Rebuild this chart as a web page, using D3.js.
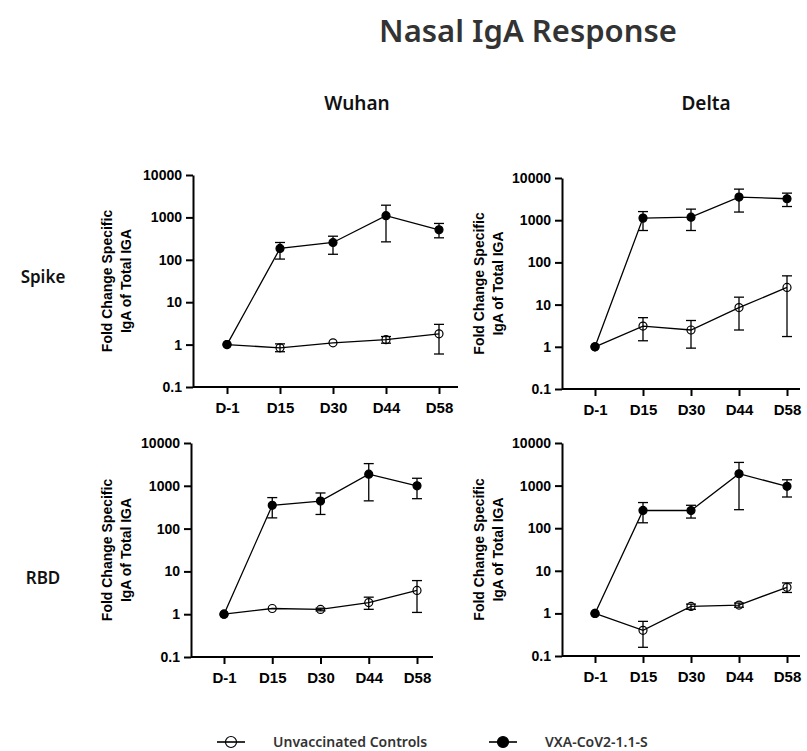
<!DOCTYPE html>
<html>
<head>
<meta charset="utf-8">
<script src="https://cdn.jsdelivr.net/npm/d3@7"></script>
<style>
  body { margin: 0; background: #fff; }
  .axis path, .axis line { stroke: #000; stroke-width: 2px; }
  .axis text { font-family: "Liberation Sans", Arial, sans-serif; font-weight: bold; fill: #000; }
</style>
</head>
<body>
<svg id="chart" width="807" height="751"></svg>
<script>
const days = ["D-1", "D15", "D30", "D44", "D58"];
const yTickValues = [0.1, 1, 10, 100, 1000, 10000];
const groupNames = ["Unvaccinated Controls", "VXA-CoV2-1.1-S"];

// Spike / Wuhan
const spikeWuhanCtrl   = [1, 0.84, 1.1, 1.31, 1.8];
const spikeWuhanCtrlLo = [null, 0.68, null, 1.08, 0.6];
const spikeWuhanCtrlHi = [null, 1.04, null, 1.55, 3.0];
const spikeWuhanVax    = [1, 185, 256, 1100, 510];
const spikeWuhanVaxLo  = [null, 104, 135, 265, 330];
const spikeWuhanVaxHi  = [null, 256, 360, 1940, 720];

// Spike / Delta
const spikeDeltaCtrl   = [1, 3.1, 2.5, 8.5, 25.5];
const spikeDeltaCtrlLo = [null, 1.39, 0.93, 2.5, 1.75];
const spikeDeltaCtrlHi = [null, 4.9, 4.2, 15, 48];
const spikeDeltaVax    = [1, 1120, 1180, 3530, 3220];
const spikeDeltaVaxLo  = [null, 570, 570, 1560, 2110];
const spikeDeltaVaxHi  = [null, 1600, 1830, 5450, 4380];

// RBD / Wuhan
const rbdWuhanCtrl   = [1, 1.36, 1.29, 1.87, 3.6];
const rbdWuhanCtrlLo = [null, null, 1.2, 1.3, 1.1];
const rbdWuhanCtrlHi = [null, null, 1.38, 2.5, 6.1];
const rbdWuhanVax    = [1, 350, 440, 1870, 1000];
const rbdWuhanVaxLo  = [null, 178, 214, 445, 500];
const rbdWuhanVaxHi  = [null, 530, 680, 3300, 1500];

// RBD / Delta
const rbdDeltaCtrl   = [1, 0.40, 1.46, 1.57, 4.1];
const rbdDeltaCtrlLo = [null, 0.16, 1.25, 1.4, 3.1];
const rbdDeltaCtrlHi = [null, 0.65, 1.65, 1.75, 5.2];
const rbdDeltaVax    = [1, 262, 260, 1900, 960];
const rbdDeltaVaxLo  = [null, 134, 173, 272, 540];
const rbdDeltaVaxHi  = [null, 400, 345, 3500, 1370];

const panels = [
  { ctrl: [spikeWuhanCtrl, spikeWuhanCtrlLo, spikeWuhanCtrlHi], vax: [spikeWuhanVax, spikeWuhanVaxLo, spikeWuhanVaxHi],
    x0: 193, x1: 458, xa: 227, xb: 439, top: 175, bottom: 387, lab: 112 },
  { ctrl: [spikeDeltaCtrl, spikeDeltaCtrlLo, spikeDeltaCtrlHi], vax: [spikeDeltaVax, spikeDeltaVaxLo, spikeDeltaVaxHi],
    x0: 562, x1: 800, xa: 595, xb: 787, top: 178, bottom: 389, lab: 484 },
  { ctrl: [rbdWuhanCtrl, rbdWuhanCtrlLo, rbdWuhanCtrlHi], vax: [rbdWuhanVax, rbdWuhanVaxLo, rbdWuhanVaxHi],
    x0: 191, x1: 433, xa: 224, xb: 417, top: 443, bottom: 657, lab: 112 },
  { ctrl: [rbdDeltaCtrl, rbdDeltaCtrlLo, rbdDeltaCtrlHi], vax: [rbdDeltaVax, rbdDeltaVaxLo, rbdDeltaVaxHi],
    x0: 562, x1: 800, xa: 595, xb: 787, top: 443, bottom: 656, lab: 484 }
];

const svg = d3.select("#chart");

// titles
svg.append("text")
  .attr("x", 528).attr("y", 42)
  .attr("text-anchor", "middle")
  .style("font-family", "'Noto Sans', sans-serif")
  .style("font-weight", 600)
  .style("font-size", "31px")
  .attr("fill", "#333")
  .text("Nasal IgA Response");

const heads = svg.append("g")
  .attr("text-anchor", "middle")
  .style("font-family", "'Noto Sans', sans-serif")
  .style("font-weight", 600)
  .attr("fill", "#111");
heads.append("text").attr("x", 357).attr("y", 110).style("font-size", "19px").text("Wuhan");
heads.append("text").attr("x", 706).attr("y", 110).style("font-size", "19px").text("Delta");
heads.append("text").attr("x", 43).attr("y", 283).style("font-size", "17px").text("Spike");
heads.append("text").attr("x", 43).attr("y", 584).style("font-size", "17px").text("RBD");

panels.forEach(p => {
  const g = svg.append("g");
  const x = d3.scalePoint().domain(days).range([p.xa, p.xb]);
  const y = d3.scaleLog().domain([0.1, 10000]).range([p.bottom, p.top]);

  // y axis
  g.append("g")
    .attr("class", "axis")
    .attr("transform", `translate(${p.x0},0)`)
    .call(d3.axisLeft(y).tickValues(yTickValues).tickFormat(d => String(d)).tickSize(7).tickSizeOuter(0).tickPadding(4))
    .selectAll("text").style("font-size", "14px");

  // x axis (line spans beyond the points)
  const xa = g.append("g")
    .attr("class", "axis")
    .attr("transform", `translate(0,${p.bottom})`)
    .call(d3.axisBottom(x).tickSize(7).tickPadding(8));
  xa.select(".domain").attr("d", `M${p.x0},0H${p.x1}`);
  xa.selectAll("text").style("font-size", "15px");

  // y axis title
  const cy = (p.top + p.bottom) / 2;
  const lab = g.append("text")
    .attr("transform", `translate(${p.lab},${cy}) rotate(-90)`)
    .attr("text-anchor", "middle")
    .style("font-family", "'Liberation Sans', Arial, sans-serif")
    .style("font-weight", "bold")
    .style("font-size", "14px");
  lab.append("tspan").attr("x", 0).attr("y", 0).text("Fold Change Specific");
  lab.append("tspan").attr("x", 0).attr("y", 19).text("IgA of Total IGA");

  const line = d3.line().x((d, i) => x(days[i])).y(d => y(d));

  [p.ctrl, p.vax].forEach((series, k) => {
    const [vals, lo, hi] = series;
    const s = g.append("g");
    // error bars
    const eb = s.selectAll(".err")
      .data(vals.map((v, i) => ({ i, lo: lo[i], hi: hi[i] })).filter(d => d.lo != null))
      .join("g");
    eb.append("line")
      .attr("x1", d => x(days[d.i])).attr("x2", d => x(days[d.i]))
      .attr("y1", d => y(d.lo)).attr("y2", d => y(d.hi));
    eb.append("line")
      .attr("x1", d => x(days[d.i]) - 5).attr("x2", d => x(days[d.i]) + 5)
      .attr("y1", d => y(d.lo)).attr("y2", d => y(d.lo));
    eb.append("line")
      .attr("x1", d => x(days[d.i]) - 5).attr("x2", d => x(days[d.i]) + 5)
      .attr("y1", d => y(d.hi)).attr("y2", d => y(d.hi));
    eb.selectAll("line").attr("stroke", "#000").attr("stroke-width", 1.3);

    s.append("path")
      .attr("d", line(vals))
      .attr("fill", "none")
      .attr("stroke", "#000")
      .attr("stroke-width", 1.3);

    s.selectAll("circle")
      .data(vals)
      .join("circle")
      .attr("cx", (d, i) => x(days[i]))
      .attr("cy", d => y(d))
      .attr("r", k === 0 ? 4 : 4)
      .attr("fill", k === 0 ? "none" : "#000")
      .attr("stroke", "#000")
      .attr("stroke-width", 1.2);
  });
});

// legend
const legend = svg.append("g");
const legX = [217, 489];
groupNames.forEach((name, k) => {
  const lg = legend.append("g").attr("transform", `translate(${legX[k]},742)`);
  lg.append("line").attr("x1", 0).attr("x2", 28).attr("y1", 0).attr("y2", 0)
    .attr("stroke", "#000").attr("stroke-width", 1.6);
  lg.append("circle").attr("cx", 14).attr("cy", 0).attr("r", 5.5)
    .attr("fill", k === 0 ? "none" : "#000").attr("stroke", "#000").attr("stroke-width", 1.2);
  lg.append("text").attr("x", 56).attr("y", 5)
    .style("font-family", "'Noto Sans', sans-serif")
    .style("font-weight", 600)
    .style("font-size", "14px")
    .attr("fill", "#333")
    .text(name);
});
</script>
</body>
</html>
